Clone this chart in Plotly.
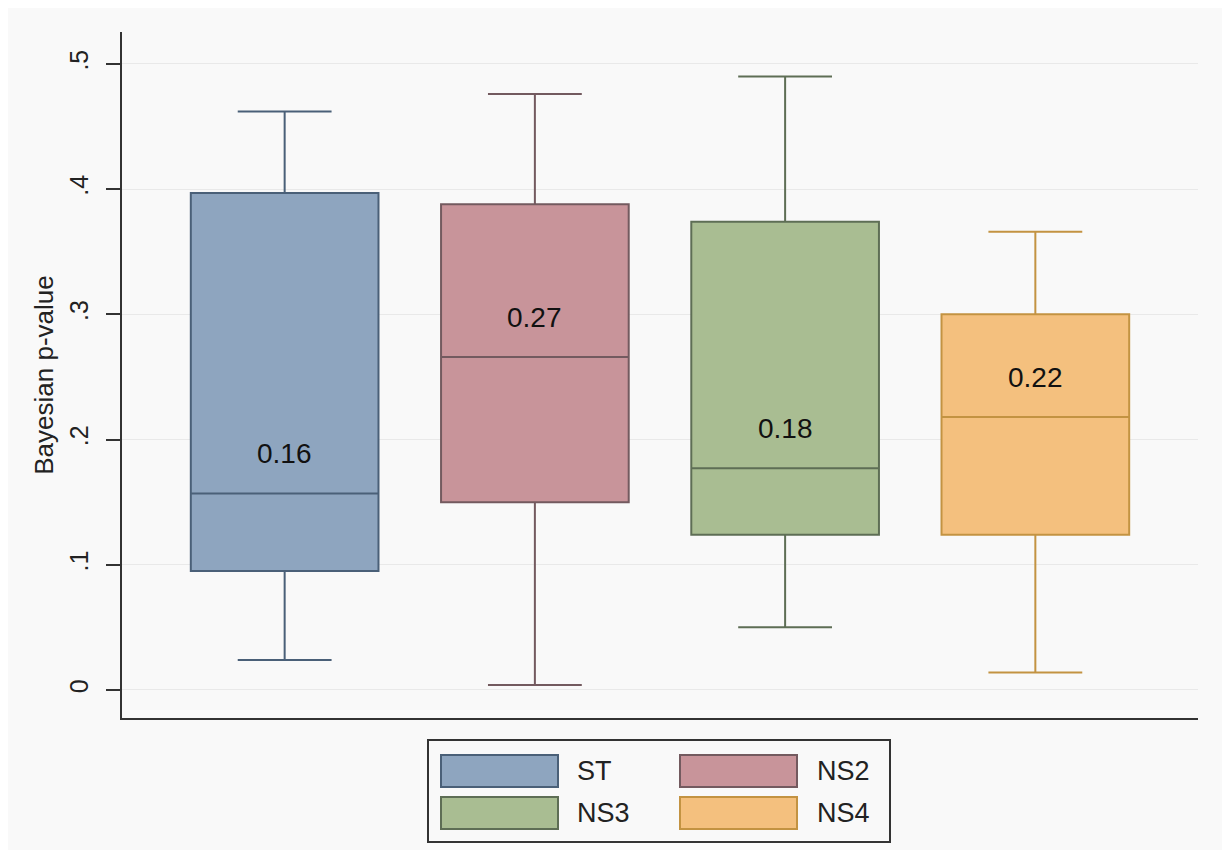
import plotly.graph_objects as go

# ---- data ----
groups = ["ST", "NS2", "NS3", "NS4"]
lower_whisker = [0.024, 0.004, 0.050, 0.014]
q1_vals = [0.095, 0.150, 0.124, 0.124]
median_vals = [0.157, 0.266, 0.177, 0.218]
q3_vals = [0.397, 0.388, 0.374, 0.300]
upper_whisker = [0.462, 0.476, 0.490, 0.366]
median_labels = ["0.16", "0.27", "0.18", "0.22"]
y_tick_vals = [0, 0.1, 0.2, 0.3, 0.4, 0.5]
y_tick_text = ["0", ".1", ".2", ".3", ".4", ".5"]

# ---- styles ----
fill_colors = ["#8ea5bf", "#c8949a", "#a9bd92", "#f4c07e"]
line_colors = ["#4a6078", "#735a5f", "#5e6e55", "#c39342"]
FONT = "Liberation Sans, Arial, sans-serif"

OFF = 8  # page body margin
W, H = 1230, 850
L, R, T, B = 122 - OFF, 40, 32 - OFF, 140
pw, ph = W - L - R, H - T - B


def px_x(p):
    return (p - OFF - L) / pw


def px_y(p):
    return (H - B - (p - OFF)) / ph


fig = go.Figure()
for i, g in enumerate(groups):
    fig.add_trace(go.Box(
        x=[g],
        q1=[q1_vals[i]], median=[median_vals[i]], q3=[q3_vals[i]],
        lowerfence=[lower_whisker[i]], upperfence=[upper_whisker[i]],
        fillcolor=fill_colors[i],
        line=dict(color=line_colors[i], width=2),
        width=0.75,
        whiskerwidth=0.5,
        name=g, showlegend=False, hoverinfo="skip",
    ))
    fig.add_annotation(
        x=g, y=median_vals[i], xref="x", yref="y",
        text=median_labels[i], showarrow=False,
        yanchor="bottom", yshift=22,
        font=dict(family=FONT, size=28, color="#111111"),
    )

# legend drawn manually (large rectangular keys as in the reference)
shapes = [dict(type="rect", xref="paper", yref="paper",
               x0=px_x(428), x1=px_x(890), y0=px_y(842), y1=px_y(740),
               line=dict(color="#333333", width=2), fillcolor="rgba(0,0,0,0)")]
key_pos = [(441, 755), (680, 755), (441, 797), (680, 797)]
label_x = [575, 815, 575, 815]
for i, g in enumerate(groups):
    kx, ky = key_pos[i]
    shapes.append(dict(type="rect", xref="paper", yref="paper",
                       x0=px_x(kx), x1=px_x(kx + 117), y0=px_y(ky + 32), y1=px_y(ky),
                       line=dict(color=line_colors[i], width=2),
                       fillcolor=fill_colors[i]))
    fig.add_annotation(x=px_x(label_x[i]), y=px_y(ky + 16), xref="paper", yref="paper",
                       text=g, showarrow=False, xanchor="left", yanchor="middle",
                       font=dict(family=FONT, size=27, color="#222222"))

fig.update_layout(
    width=W, height=H,
    margin=dict(l=L, r=R, t=T, b=B),
    paper_bgcolor="#f9f9f9", plot_bgcolor="#f9f9f9",
    shapes=shapes,
    font=dict(family=FONT, color="#222222"),
)
fig.update_xaxes(
    categoryorder="array", categoryarray=groups,
    range=[-0.65, 3.65], showticklabels=False, ticks="",
    showgrid=False, zeroline=False,
    showline=True, linecolor="#333333", linewidth=2,
)
fig.update_yaxes(
    range=[-0.0224, 0.5255],
    tickvals=y_tick_vals, ticktext=y_tick_text, tickangle=-90,
    ticks="outside", ticklen=14, tickwidth=2, tickcolor="#333333",
    ticklabelstandoff=8,
    tickfont=dict(family=FONT, size=25, color="#222222"),
    showgrid=True, gridcolor="#e9e9e9", gridwidth=1, zeroline=False,
    showline=True, linecolor="#333333", linewidth=2,
    title=dict(text="Bayesian p-value", standoff=4,
               font=dict(family=FONT, size=26, color="#222222")),
)

fig.write_html("out.html")
